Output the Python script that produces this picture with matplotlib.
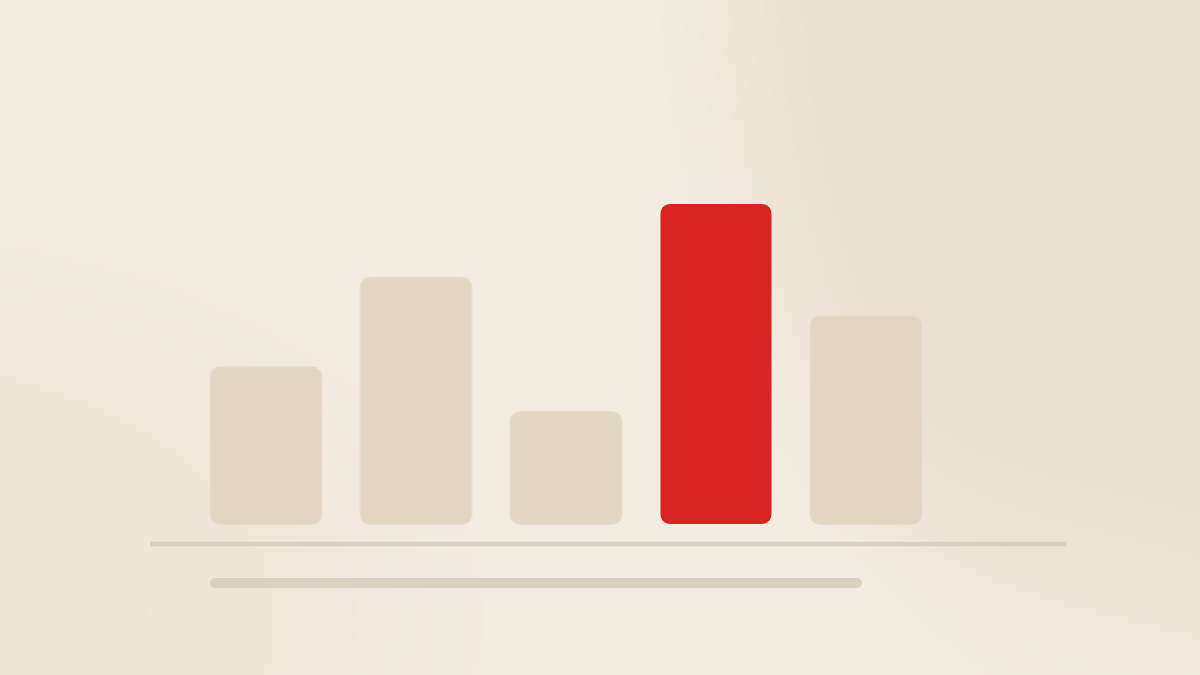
import matplotlib
matplotlib.use('Agg')
import matplotlib.pyplot as plt
import numpy as np
from matplotlib.colors import to_rgb
from matplotlib.patches import FancyBboxPatch

# chart data (relative heights, tallest = 100)
categories = ['A', 'B', 'C', 'D', 'E']
values = [49, 77, 35, 100, 65]
highlight = 'D'

BG = '#f3ede2'
BAR = '#e2d6c1'
BAR_EDGE = '#e6dbc8'
RED = '#da2424'
RULE = '#d9cfbf'

W, H = 1200, 675

fig = plt.figure(figsize=(W / 100, H / 100), dpi=100)
fig.patch.set_facecolor(BG)

# soft background wash
bg = fig.add_axes([0, 0, 1, 1])
bg.set_axis_off()
yy, xx = np.mgrid[0:H, 0:W]
base = np.array(to_rgb('#f4ede2'))
dark = np.array(to_rgb('#eae1d2'))
# right-hand darker region, boundary curving from top-middle to lower right
edge_x = 730 + 0.00045 * yy ** 2 + 0.05 * yy
w_right = 1 / (1 + np.exp(-(xx - edge_x) / 30))
w_right *= 1 / (1 + np.exp((yy - (560 + 0.25 * (xx - 900))) / 50))
# left darker region in the lower left
d_left = np.sqrt(((xx + 150) / 520) ** 2 + ((yy - 620) / 320) ** 2)
w_left = 0.6 / (1 + np.exp((d_left - 1) / 0.12))
w = np.clip(np.maximum(w_right, w_left), 0, 1)[..., None]
img = base * (1 - w) + dark * w
bg.imshow(img, extent=[0, 1, 0, 1], aspect='auto', transform=bg.transAxes, zorder=0)

ax = fig.add_axes([0, 0, 1, 1])
ax.set_facecolor('none')
ax.set_axis_off()
# 150 px per category slot, 3.2 px per unit of value, baseline at 524 px
ax.set_xlim(-266 / 150, (W - 266) / 150)
ax.set_ylim(-(H - 524) / 3.2, 524 / 3.2)

x = np.arange(len(categories))
bars = ax.bar(x, values, width=0.74, alpha=0)

aspect = 150 / 3.2
for cat, b in zip(categories, bars):
    hot = cat == highlight
    p = FancyBboxPatch((b.get_x(), b.get_y()), b.get_width(), b.get_height(),
                       boxstyle='round,pad=0,rounding_size=0.07',
                       mutation_aspect=aspect,
                       facecolor=RED if hot else BAR,
                       edgecolor='none' if hot else BAR_EDGE,
                       linewidth=0 if hot else 1.2, zorder=3)
    ax.add_patch(p)

# baseline rule and the muted caption bar beneath it
ax.plot([-0.773, 5.333], [-6.2, -6.2], color=RULE, lw=3.2,
        solid_capstyle='butt', zorder=2)
ax.plot([-0.337, 3.943], [-18.4, -18.4], color='#dbd1c1', lw=7.2,
        solid_capstyle='round', zorder=2)

fig.savefig('out.png', dpi=100, facecolor=BG)
